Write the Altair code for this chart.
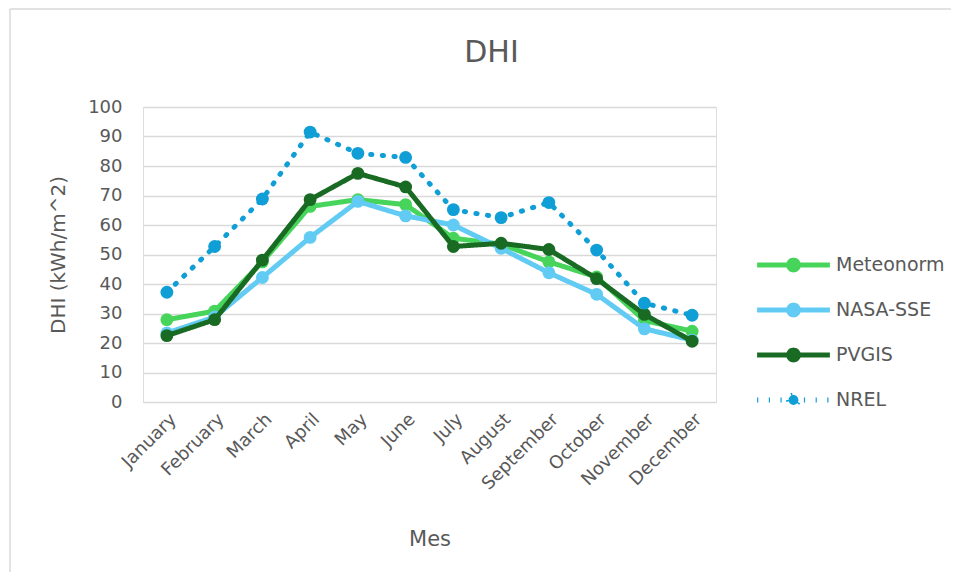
import altair as alt
import pandas as pd

months = ["January", "February", "March", "April", "May", "June", "July",
          "August", "September", "October", "November", "December"]
series = ["Meteonorm", "NASA-SSE", "PVGIS", "NREL"]
meteonorm = [27.9, 30.8, 47.5, 66.3, 68.6, 66.9, 55.5, 53.5, 47.5, 42.4, 27.6, 24.0]
nasa_sse = [23.4, 28.8, 42.2, 55.8, 68.0, 63.1, 60.0, 52.1, 43.8, 36.5, 24.8, 21.0]
pvgis = [22.5, 27.9, 48.1, 68.6, 77.5, 72.9, 52.7, 53.8, 51.7, 41.8, 29.7, 20.6]
nrel = [37.2, 52.7, 68.8, 91.5, 84.3, 82.9, 65.2, 62.5, 67.6, 51.5, 33.5, 29.4]
colors = ["#47D45A", "#61CBF3", "#196B24", "#0F9ED5"]
dashes = [[1, 0], [1, 0], [1, 0], [1.2, 10.5]]

values = {"Meteonorm": meteonorm, "NASA-SSE": nasa_sse, "PVGIS": pvgis, "NREL": nrel}
rows = []
for s in series:
    for m, v in zip(months, values[s]):
        rows.append({"Mes": m, "serie": s, "DHI": v})
df = pd.DataFrame(rows)

FONT = "DejaVu Sans"
TXT = "#595959"

x_enc = alt.X("Mes:N", sort=months, scale=alt.Scale(type="point", padding=0.5),
              axis=alt.Axis(labelAngle=-45, labelFontSize=18, labelColor=TXT, labelFont=FONT,
                            labelPadding=8, domain=False, ticks=False, grid=False,
                            title="Mes", titleFontSize=21, titleFont=FONT, titleColor=TXT,
                            titleFontWeight="normal", titlePadding=35))
y_enc = alt.Y("DHI:Q", scale=alt.Scale(domain=[0, 100], nice=False, zero=True),
              axis=alt.Axis(values=list(range(0, 101, 10)), grid=True, gridColor="#D9D9D9",
                            gridWidth=1.5, domain=False, ticks=False, labelPadding=21,
                            labelFontSize=18, labelColor=TXT, labelFont=FONT,
                            title="DHI (kWh/m^2)", titleFontSize=20, titleFont=FONT,
                            titleColor=TXT, titleFontWeight="normal", titlePadding=19))

legend = alt.Legend(
    title=None, orient="none", legendX=641, legendY=148.5, padding=0,
    symbolType="M-5.2,0L5.2,0M-0.7,0A0.7,0.7,0,1,0,0.7,0A0.7,0.7,0,1,0,-0.7,0Z",
    symbolSize=196, symbolStrokeWidth=5, labelOffset=33, rowPadding=14,
    labelFontSize=19, labelFont=FONT, labelColor=TXT,
)

color_enc = alt.Color("serie:N", scale=alt.Scale(domain=series, range=colors), legend=legend)
dash_enc = alt.StrokeDash("serie:N", scale=alt.Scale(domain=series, range=dashes), legend=legend)
fill_enc = alt.Fill("serie:N", scale=alt.Scale(domain=series, range=colors), legend=legend)

base = alt.Chart(df)
layers = []
for s in series:
    sub = base.transform_filter(alt.datum.serie == s)
    layers.append(sub.mark_line(strokeWidth=5, strokeCap="round", strokeJoin="round")
                  .encode(x=x_enc, y=y_enc, color=color_enc, strokeDash=dash_enc))
    layers.append(sub.mark_circle(size=165, opacity=1)
                  .encode(x=x_enc, y=y_enc, fill=fill_enc))

frame = alt.Chart(pd.DataFrame({"k": [0]}))
border_left = frame.mark_rule(color="#D9D9D9", strokeWidth=1.5).encode(
    x=alt.value(-133), y=alt.value(-98), y2=alt.value(480))
border_top = frame.mark_rule(color="#D9D9D9", strokeWidth=1.5).encode(
    x=alt.value(-133), x2=alt.value(830), y=alt.value(-98))

chart = alt.layer(border_left, border_top, *layers).properties(
    width=573, height=295,
    title=alt.TitleParams("DHI", fontSize=30, font=FONT, color=TXT, fontWeight="normal",
                          anchor="middle", frame="group", dx=62, baseline="alphabetic",
                          offset=-83.75),
    autosize=alt.AutoSizeParams(type="none"),
    padding={"left": 135, "top": 99, "right": 235, "bottom": 170},
).configure_view(stroke=None).configure(background="white")

chart.save("out.html", embed_options={"renderer": "svg", "actions": False})
